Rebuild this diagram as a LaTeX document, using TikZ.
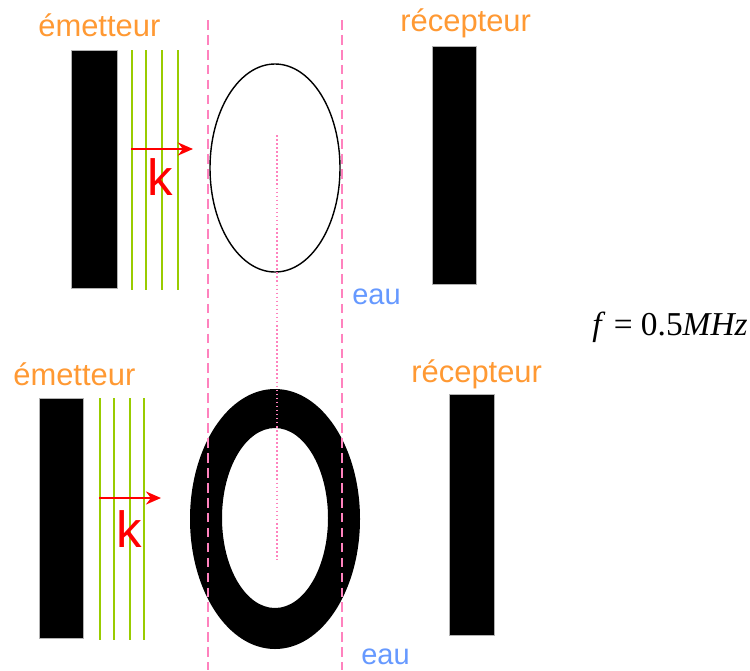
\documentclass[tikz,border=0pt]{standalone}
\usepackage{fontspec}
\setmainfont{Liberation Sans}
\newfontfamily\timesfont{Liberation Serif}
\usetikzlibrary{arrows.meta}
\definecolor{orangetxt}{RGB}{255,153,51}
\definecolor{greenline}{RGB}{153,204,0}
\definecolor{pinkline}{RGB}{255,130,190}
\definecolor{bluetxt}{RGB}{102,153,255}

\begin{document}
\begin{tikzpicture}[x=0.02cm,y=-0.02cm,>={Stealth[length=3mm,width=2.6mm]},line cap=butt,
  label/.style={inner sep=0pt,font=\fontsize{17.6}{20}\selectfont},
  title/.style={label,text=orangetxt,anchor=base west},
  water/.style={label,text=bluetxt,anchor=base west,font=\fontsize{16.5}{19}\selectfont},
  wavenum/.style={inner sep=0pt,text=red,anchor=base west,font=\fontsize{29}{31}\selectfont},
  plate/.style={fill=black,draw=gray!60,line width=0.4pt},
  front/.style={greenline,line width=0.9pt},
  wall/.style={pinkline,line width=0.6pt,dash pattern=on 5.5pt off 3pt},
  axis/.style={pinkline,line width=1.5pt,dash pattern=on 0.9pt off 1.4pt}]
\useasboundingbox[fill=white] (0,0) rectangle (750,670);
% top: bare ellipse
\node[title] (emet1) at (38,36) {émetteur};
\node[title] (recep1) at (400,31) {récepteur};
\filldraw[plate] (71,50) rectangle (117,288);
\filldraw[plate] (432,46) rectangle (476,284);
\draw[front] (132,50) -- (132,290);
\draw[front] (146,50) -- (146,290);
\draw[front] (162,50) -- (162,290);
\draw[front] (178,50) -- (178,290);
\coordinate (k1s) at (131,149);
\coordinate (k1e) at (193,149);
\draw[->,red,line width=1.3pt] (k1s) -- (k1e);
\node[wavenum] (k1) at (147,195) {k};
\draw[black,line width=0.8pt] (275,168) ellipse (65 and 104);
\node[water] (eau1) at (352,304) {eau};
% bottom: thick shell
\node[title] (emet2) at (13,385) {émetteur};
\node[title] (recep2) at (411,382) {récepteur};
\filldraw[plate] (39,398) rectangle (83,638);
\filldraw[plate] (449,394) rectangle (494,635);
\draw[front] (100,398) -- (100,640);
\draw[front] (114,398) -- (114,640);
\draw[front] (130,398) -- (130,640);
\draw[front] (144,398) -- (144,640);
\coordinate (k2s) at (99,498);
\coordinate (k2e) at (161,498);
\draw[->,red,line width=1.3pt] (k2s) -- (k2e);
\node[wavenum] (k2) at (116,547) {k};
\fill[black,even odd rule] (275,519) ellipse (85 and 130) (275,518) ellipse (53 and 90);
\node[water] (eau2) at (361,664) {eau};
% water walls and axis
\draw[wall] (208,20) -- (208,670);
\draw[wall] (342,20) -- (342,670);
\draw[axis] (277,135) -- (277,560);
\node[inner sep=0pt,anchor=base west,font=\fontsize{19}{22}\timesfont] (freq) at (592,335) {\textit{f} = 0.5\textit{MHz}};
\end{tikzpicture}
\end{document}
